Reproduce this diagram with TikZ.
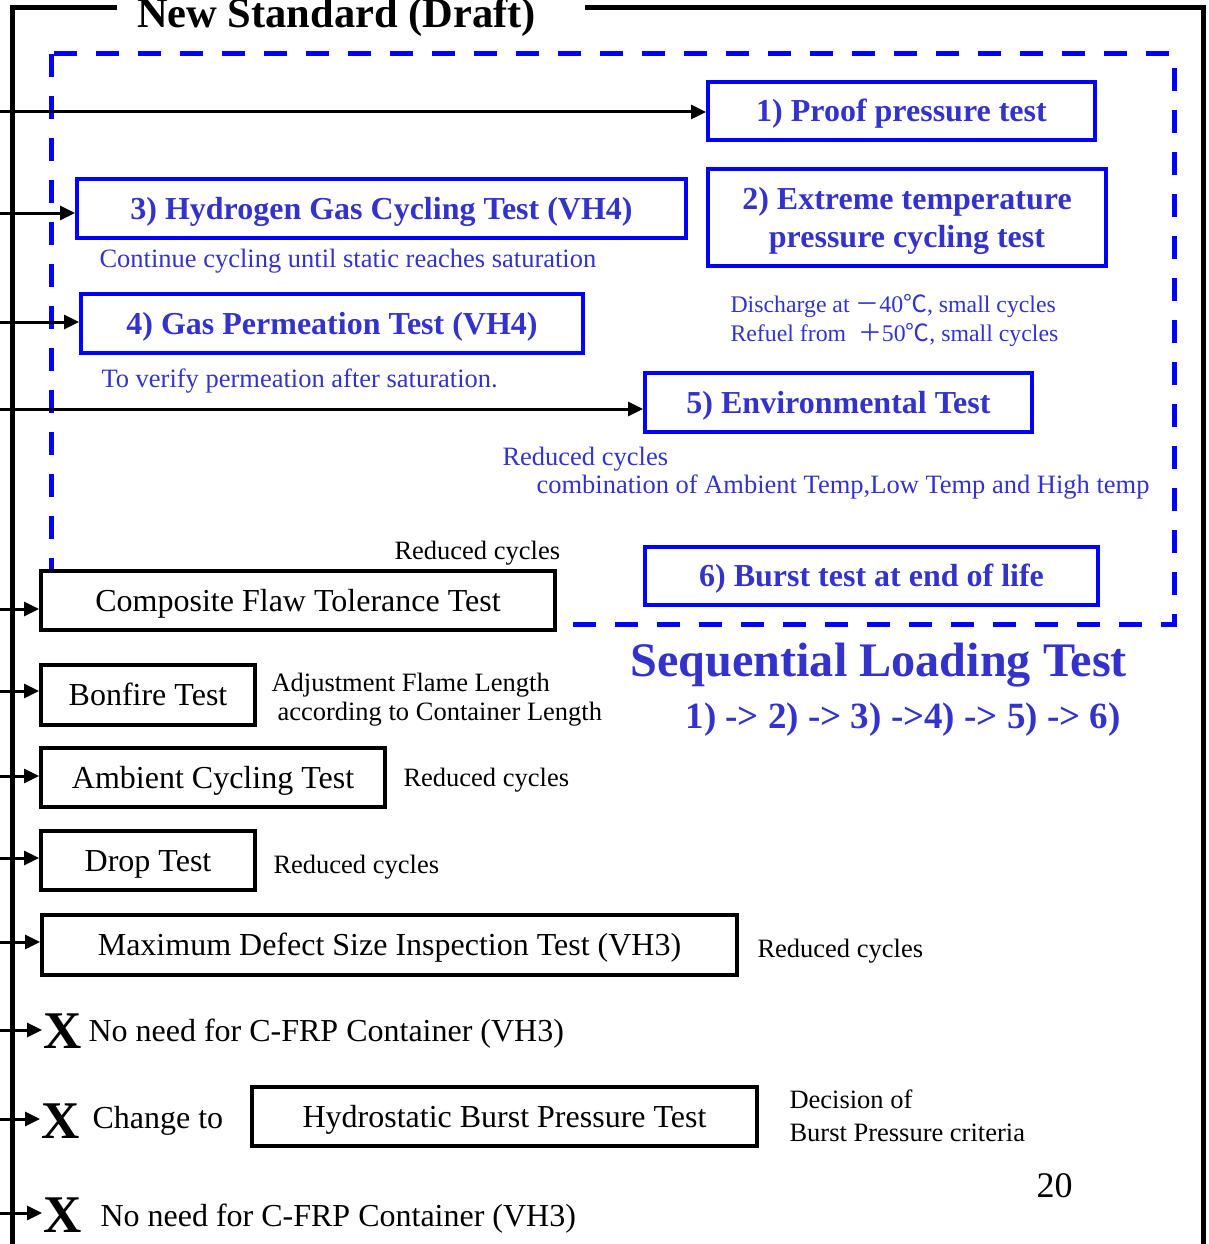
\documentclass[tikz,border=0pt]{standalone}
\usepackage{fontspec}
\setmainfont{Liberation Serif}
\newfontfamily\cjk{Noto Sans CJK JP}
\usetikzlibrary{arrows.meta}
\definecolor{boxblue}{RGB}{0,0,255}
\definecolor{txtblue}{RGB}{51,51,204}
\tikzset{
	every path/.style = {line width=3pt},
	bluebox/.style = {draw=boxblue, line width=4pt, text=txtblue, inner sep=0pt, text height=21pt, text depth=0pt, font=\fontsize{32}{38}\selectfont\bfseries},
	blackbox/.style = {draw, line width=4pt, fill=white, inner sep=0pt, text height=21pt, text depth=0pt, font=\fontsize{32}{38}\selectfont},
	note/.style = {inner sep=0pt, anchor=base west, font=\fontsize{26.5}{30}\selectfont},
	bluenote/.style = {note, text=txtblue},
	bignote/.style = {note, font=\fontsize{32}{38}\selectfont},
	xmark/.style = {note, font=\fontsize{53}{60}\selectfont\bfseries},
	feed/.style = {-{Triangle[length=15pt,width=14pt]}}
}

\begin{document}
\begin{tikzpicture}[x=1pt, y=-1pt]
	\useasboundingbox (0,0) rectangle (1208,1244);
	% frame
	\draw[line width=5pt] (117,8) -- (12,8) -- (12,1244);
	\draw[line width=5pt] (585,8) -- (1203,8) -- (1203,1244);
	\node[anchor=base, inner sep=0pt, font=\fontsize{42.5}{48}\selectfont\bfseries] (title) at (336.5,28) {New Standard (Draft)};
	% sequential loading group
	\draw[boxblue, line width=5pt, dash pattern=on 23pt off 19pt] (51,54) rectangle (1174,624);
	\node[bluebox, minimum width=387pt, minimum height=58pt] (proof) at (901.5,111) {1) Proof pressure test};
	\node[bluebox, text height=, minimum width=398pt, minimum height=97pt, align=center] (extreme) at (907,217.5) {2) Extreme temperature\\pressure cycling test};
	\node[bluebox, minimum width=609pt, minimum height=59pt] (hydro) at (381.5,208.5) {3) Hydrogen Gas Cycling Test (VH4)};
	\node[bluebox, minimum width=502pt, minimum height=59pt] (perm) at (332,323.5) {4) Gas Permeation Test (VH4)};
	\node[bluebox, minimum width=387pt, minimum height=59pt] (env) at (838.5,402.5) {5) Environmental Test};
	\node[bluebox, minimum width=453pt, minimum height=58pt] (burst) at (871.5,576) {6) Burst test at end of life};
	\node[bluenote] (hydronote) at (98,267) {Continue cycling until static reaches saturation};
	\node[bluenote] (permnote) at (100,387) {To verify permeation after saturation.};
	\node[bluenote, font=\fontsize{23.8}{28}\selectfont] (discharge) at (729,312) {Discharge at {\cjk －}40{\cjk ℃}, small cycles};
	\node[bluenote, font=\fontsize{23.8}{28}\selectfont] (refuel) at (729,341) {Refuel from~ {\cjk ＋}50{\cjk ℃}, small cycles};
	\node[bluenote] (envnote) at (501,465) {Reduced cycles};
	\node[bluenote] (envmix) at (535,493) {combination of Ambient Temp,Low Temp and High temp};
	\node[bluenote, font=\fontsize{48.2}{54}\selectfont\bfseries] (seq) at (629,676) {Sequential Loading Test};
	\node[bluenote, font=\fontsize{37}{42}\selectfont\bfseries] (order) at (684,728) {1) -> 2) -> 3) ->4) -> 5) -> 6)};
	% other tests
	\node[blackbox, minimum width=514pt, minimum height=59pt] (flaw) at (298,600.5) {Composite Flaw Tolerance Test};
	\node[blackbox, minimum width=214pt, minimum height=60pt] (bonfire) at (148,695) {Bonfire Test};
	\node[blackbox, minimum width=344pt, minimum height=59pt] (ambient) at (213,777.5) {Ambient Cycling Test};
	\node[blackbox, minimum width=214pt, minimum height=59pt] (drop) at (148,860.5) {Drop Test};
	\node[blackbox, minimum width=695pt, minimum height=60pt] (defect) at (389.5,945) {Maximum Defect Size Inspection Test (VH3)};
	\node[blackbox, minimum width=505pt, minimum height=59pt] (hydrostatic) at (504.5,1116.5) {Hydrostatic Burst Pressure Test};
	\node[note] (flawnote) at (393,559) {Reduced cycles};
	\node[note] (flame) at (270,691) {Adjustment Flame Length};
	\node[note] (flamelen) at (276,720) {according to Container Length};
	\node[note] (ambnote) at (402,786) {Reduced cycles};
	\node[note] (dropnote) at (272,873) {Reduced cycles};
	\node[note] (defnote) at (756,957) {Reduced cycles};
	\node[xmark] (xa) at (42,1048) {X};
	\node[bignote] (noneeda) at (87,1041) {No need for C-FRP Container (VH3)};
	\node[xmark] (xb) at (40,1138) {X};
	\node[bignote] (change) at (91,1128) {Change to};
	\node[note] (decision) at (788,1108) {Decision of};
	\node[note] (criteria) at (788,1141) {Burst Pressure criteria};
	\node[xmark] (xc) at (42,1232) {X};
	\node[bignote] (noneedb) at (99,1226) {No need for C-FRP Container (VH3)};
	\node[note, font=\fontsize{36}{40}\selectfont] (page) at (1035,1197) {20};
	% feeds from the trunk
	\foreach \y/\n in {112/proof, 213/hydro, 322/perm, 409/env, 609/flaw, 691/bonfire, 776/ambient, 858/drop, 942/defect, 1030/xa, 1119/xb, 1213/xc} {
		\coordinate (src\n) at (0,\y);
		\draw[feed] (src\n) -- (src\n -| \n.west);
	}
\end{tikzpicture}
\end{document}
